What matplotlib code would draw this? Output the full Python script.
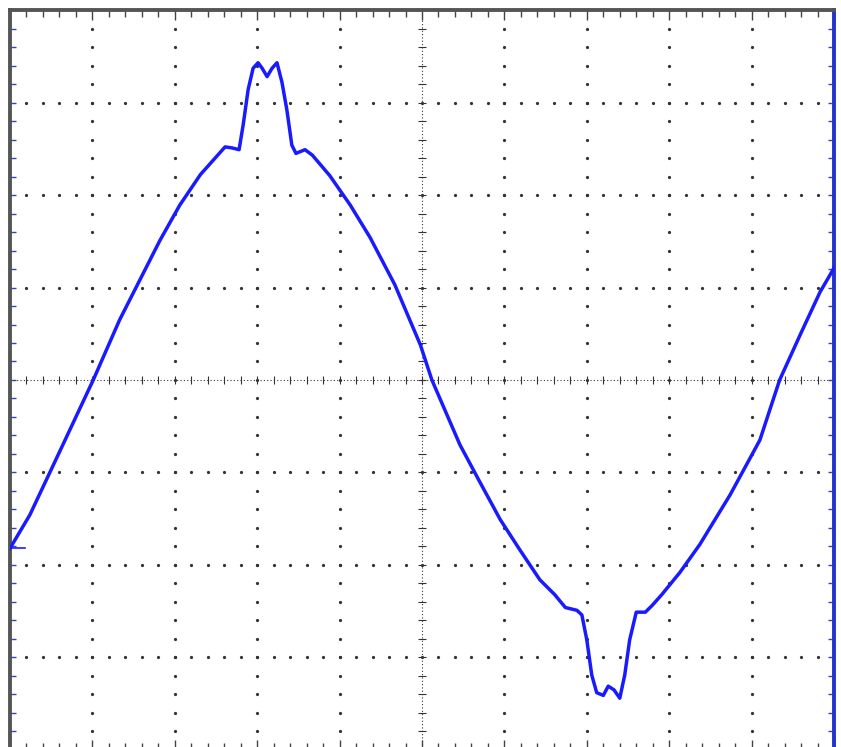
import numpy as np
import matplotlib
matplotlib.use("Agg")
import matplotlib.pyplot as plt
from matplotlib.ticker import MultipleLocator

# trace, in divisions (x: 0..10, y: -4..4)
t_div = [0.00, 0.24, 0.61, 1.01, 1.33, 1.82, 2.06, 2.31, 2.49, 2.61, 2.69, 2.78,
         2.83, 2.89, 2.95, 3.01, 3.06, 3.12, 3.18, 3.24, 3.30, 3.36, 3.42, 3.47,
         3.58, 3.67, 3.88, 4.13, 4.37, 4.67, 4.98, 5.12, 5.46, 5.70, 5.95, 6.19,
         6.43, 6.61, 6.74, 6.88, 6.94, 7.00, 7.06, 7.12, 7.20, 7.26, 7.33, 7.40,
         7.46, 7.52, 7.60, 7.71, 7.79, 7.91, 8.13, 8.37, 8.74, 9.10, 9.34, 9.59,
         9.83, 10.00]
v_div = [-1.82, -1.46, -0.76, 0.00, 0.65, 1.51, 1.89, 2.22, 2.40, 2.52, 2.51, 2.49,
         2.76, 3.14, 3.37, 3.43, 3.37, 3.28, 3.37, 3.43, 3.22, 2.92, 2.54, 2.45,
         2.49, 2.43, 2.21, 1.89, 1.54, 1.03, 0.38, 0.00, -0.70, -1.10, -1.51, -1.84,
         -2.16, -2.32, -2.46, -2.49, -2.54, -2.81, -3.19, -3.38, -3.41, -3.31, -3.35, -3.44,
         -3.19, -2.81, -2.51, -2.51, -2.44, -2.32, -2.08, -1.78, -1.24, -0.65, 0.00, 0.49,
         0.95, 1.21]

fig = plt.figure(figsize=(8.41, 7.47), dpi=100)
ax = fig.add_axes([0.0119, -0.004, 0.9798, 0.9906])
ax.set_xlim(0, 10)
ax.set_ylim(-4, 4)

dot = "#333333"
minor_x = np.arange(0, 10.01, 0.2)
minor_y = np.arange(-4, 4.01, 0.2)

# dotted graticule
for gx in range(1, 10):
    if gx == 5:
        continue
    ax.plot([gx] * len(minor_y), minor_y, ls="none", marker="o", ms=1.3, color=dot, zorder=1)
for gy in range(-3, 4):
    if gy == 0:
        continue
    ax.plot(minor_x, [gy] * len(minor_x), ls="none", marker="o", ms=1.3, color=dot, zorder=1)

# centre cross with small ticks
ax.axhline(0, color=dot, lw=0.8, ls=(0, (1, 2)), zorder=1)
ax.axvline(5, color=dot, lw=0.8, ls=(0, (1, 2)), zorder=1)
ax.plot(minor_x, np.zeros_like(minor_x), ls="none", marker="|", ms=6, mew=0.8, color=dot, zorder=1)
ax.plot(np.full_like(minor_y, 5), minor_y, ls="none", marker="_", ms=6, mew=0.8, color=dot, zorder=1)

# the trace
ax.plot(t_div, v_div, color="#1a1aff", lw=2.5, zorder=3)
# ground marker on the left
ax.plot([0, 0.18], [-1.82, -1.82], color="#1a1aff", lw=1.2, zorder=3)

# border with ticks
ax.xaxis.set_major_locator(MultipleLocator(1))
ax.xaxis.set_minor_locator(MultipleLocator(0.2))
ax.yaxis.set_major_locator(MultipleLocator(1))
ax.yaxis.set_minor_locator(MultipleLocator(0.2))
ax.tick_params(which="both", direction="in", top=True, right=True, bottom=True, left=True,
               labelbottom=False, labelleft=False, color="#444444")
ax.tick_params(which="major", length=7, width=1)
ax.tick_params(which="minor", length=5, width=1)
ax.tick_params(axis="y", which="both", left=True, colors="#3344bb", length=4)
for side in ["top", "left", "bottom"]:
    ax.spines[side].set_color("#555555")
    ax.spines[side].set_linewidth(2.8)
ax.spines["right"].set_color("#2233cc")
ax.spines["right"].set_linewidth(2.8)

fig.savefig("out.png", dpi=100)
